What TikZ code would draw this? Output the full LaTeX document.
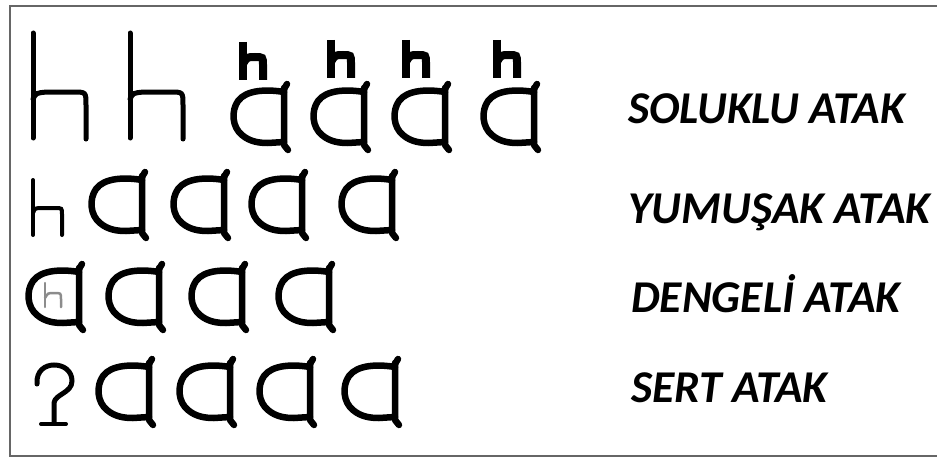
\documentclass[tikz,border=0pt]{standalone}
\usepackage{fontspec}
\setsansfont{Carlito}

\begin{document}
\begin{tikzpicture}[x=1pt,y=-1pt]
\tikzset{
  frameline/.style={draw=black!60,line width=2.5pt},
  glyphline/.style={line width=6.5pt,line cap=round,line join=round},
  attacklabel/.style={anchor=base west,inner sep=0pt,font=\sffamily\bfseries\itshape\fontsize{45.5}{45.5}\selectfont},
  aglyph/.pic={
    \draw[glyphline] (52,1) -- (52,58) -- (56,63);
    \draw[glyphline] (52,2) -- (55,-3);
    \draw[glyphline] (52,5) .. controls (34,2) and (14,3) .. (6,14)
      .. controls (-1,24) and (0,40) .. (10,48) .. controls (18,55) and (28,56) .. (36,56) -- (52,55);
  },
  hbig/.pic={
    \draw[line width=5pt,line cap=round] (0,0) -- (0,105);
    \draw[line width=5pt,line cap=round] (0,66) .. controls (3,60) .. (14,59) -- (40,59)
      .. controls (53,59) .. (53,72) -- (53,106);
  },
  hbold/.pic={
    \draw[line width=8pt] (4,0) -- (4,38);
    \draw[line width=8pt] (4,22) .. controls (8,15) .. (16,15) .. controls (24,15) .. (24,23) -- (24,38);
  },
  hthin/.pic={
    \draw[line width=4pt,line cap=round] (0,0) -- (0,55);
    \draw[line width=4pt,line cap=round] (0,33) .. controls (2,28) .. (10,28) -- (22,28)
      .. controls (29,28) .. (29,34) -- (29,55);
  },
  hgrey/.pic={
    \draw[black!45,line width=2.5pt,line cap=round] (0,0) -- (0,24);
    \draw[black!45,line width=2.5pt,line cap=round] (0,15) .. controls (3,10) .. (9,10)
      .. controls (16,10) .. (16,16) -- (16,24);
  }
}
\useasboundingbox (0,0) rectangle (937,460);
\draw[frameline] (940,6) -- (10,6) -- (10,456) -- (940,456);

% soluklu
\pic (h_r1a) at (33,33) {hbig};
\pic (h_r1b) at (130,33) {hbig};
\pic (hb_1) at (239,42) {hbold};
\pic (hb_2) at (327,40) {hbold};
\pic (hb_3) at (402,40) {hbold};
\pic (hb_4) at (493,40) {hbold};
\pic (a_r1c1) at (232,87) {aglyph};
\pic (a_r1c2) at (312,87) {aglyph};
\pic (a_r1c3) at (393,87) {aglyph};
\pic (a_r1c4) at (482,87) {aglyph};

% yumusak
\pic (h_r2) at (33,180) {hthin};
\pic (a_r2c1) at (90,175) {aglyph};
\pic (a_r2c2) at (172,175) {aglyph};
\pic (a_r2c3) at (250,175) {aglyph};
\pic (a_r2c4) at (340,175) {aglyph};

% dengeli
\pic (a_r3c1) at (27,267) {aglyph};
\pic (h_r3) at (45,283) {hgrey};
\pic (a_r3c2) at (107,267) {aglyph};
\pic (a_r3c3) at (190,267) {aglyph};
\pic (a_r3c4) at (277,267) {aglyph};

% sert
\draw[line width=5pt,line cap=round] (37,384) .. controls (36,370) and (46,365) .. (54,365)
  .. controls (64,365) and (72,371) .. (72,381) .. controls (72,393) and (55,394) .. (54,403) -- (54,422);
\draw[line width=4pt,line cap=round] (41,424) -- (66,424);
\pic (a_r4c1) at (97,362) {aglyph};
\pic (a_r4c2) at (178,362) {aglyph};
\pic (a_r4c3) at (258,362) {aglyph};
\pic (a_r4c4) at (343,362) {aglyph};

\node[attacklabel] (lbl_soluklu) at (628,123) {SOLUKLU ATAK};
\node[attacklabel] (lbl_yumusak) at (628,223) {YUMUŞAK ATAK};
\node[attacklabel] (lbl_dengeli) at (631,312) {DENGELİ ATAK};
\node[attacklabel] (lbl_sert) at (631,402) {SERT ATAK};
\end{tikzpicture}
\end{document}
